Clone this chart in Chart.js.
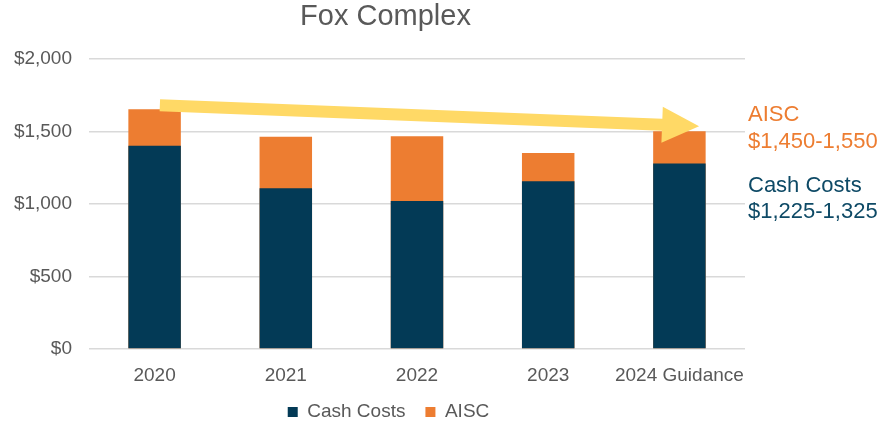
<!DOCTYPE html>
<html>
<head>
<meta charset="utf-8">
<script src="https://cdn.jsdelivr.net/npm/chart.js@4.4.0/dist/chart.umd.min.js"></script>
<style>
  body{margin:0;background:#fff;}
  #wrap{width:888px;height:425px;}
</style>
</head>
<body>
<div id="wrap"><canvas id="myChart"></canvas></div>
<script>
const years=['2020','2021','2022','2023','2024 Guidance'];
const cashCosts=[1400,1107,1020,1156,1278];
const aisc=[1653,1462,1466,1351,1501];
const yTicks=[0,500,1000,1500,2000];

// arrow from 2020 to 2024 (category index, value)
const arrowFrom=[0.04,1680];
const arrowTo=[4.15,1535];

const guidanceText=[
  {text:'AISC',color:'#ED7D31'},
  {text:'$1,450-1,550',color:'#ED7D31'},
  {text:'Cash Costs',color:'#0E4A66'},
  {text:'$1,225-1,325',color:'#0E4A66'}
];

const FONT="'Liberation Sans', Arial, sans-serif";
const GREY='#595959';

const arrowPlugin={
  id:'arrow',
  afterLayout(chart){
    // nudge title and legend a bit to the right, like the original
    if(chart.titleBlock){chart.titleBlock.left+=7;chart.titleBlock.right+=7;}
    if(chart.legend){chart.legend.left+=10;chart.legend.right+=10;}
  },
  afterDatasetsDraw(chart){
    const ctx=chart.ctx;
    const x=chart.scales.x, y=chart.scales.y;
    const x0=x.getPixelForValue(arrowFrom[0]), y0=y.getPixelForValue(arrowFrom[1]);
    const x1=x.getPixelForValue(arrowTo[0]), y1=y.getPixelForValue(arrowTo[1]);
    const ang=Math.atan2(y1-y0,x1-x0);
    const len=Math.hypot(x1-x0,y1-y0);
    const shaft=6, headW=18, headL=37;
    ctx.save();
    ctx.translate(x0,y0);
    ctx.rotate(ang);
    ctx.fillStyle='#FFD966';
    ctx.beginPath();
    ctx.moveTo(0,-shaft);
    ctx.lineTo(len-headL,-shaft);
    ctx.lineTo(len-headL,-headW);
    ctx.lineTo(len,0);
    ctx.lineTo(len-headL,headW);
    ctx.lineTo(len-headL,shaft);
    ctx.lineTo(0,shaft);
    ctx.closePath();
    ctx.fill();
    ctx.restore();
  },
  afterDraw(chart){
    const ctx=chart.ctx;
    const left=chart.chartArea.right+3;
    const base=[121,148,192,218];
    ctx.save();
    ctx.font='22px '+FONT;
    ctx.textAlign='left';
    ctx.textBaseline='alphabetic';
    for(let i=0;i<guidanceText.length;i++){
      ctx.fillStyle=guidanceText[i].color;
      ctx.fillText(guidanceText[i].text,left,base[i]);
    }
    ctx.restore();
  }
};

const chart=new Chart(document.getElementById('myChart'),{
  type:'bar',
  data:{
    labels:years,
    datasets:[
      {label:'Cash Costs',data:cashCosts,backgroundColor:'#033A56',barPercentage:0.4,categoryPercentage:1},
      {label:'AISC',data:aisc,backgroundColor:'#ED7D31',barPercentage:0.4,categoryPercentage:1}
    ]
  },
  options:{
    responsive:true,
    maintainAspectRatio:false,
    animation:false,
    layout:{padding:{left:12,right:143,top:0,bottom:0}},
    plugins:{
      title:{display:true,text:'Fox Complex',color:GREY,font:{family:FONT,size:29,weight:'normal'},padding:{top:0,bottom:24}},
      legend:{
        position:'bottom',
        maxHeight:42.5,
        labels:{color:GREY,font:{family:FONT,size:19},boxWidth:10,boxHeight:10,padding:20}
      },
      tooltip:{enabled:false}
    },
    scales:{
      x:{
        stacked:true,
        grid:{display:false,drawTicks:false},
        border:{display:false},
        ticks:{color:GREY,font:{family:FONT,size:19},padding:15,maxRotation:0,autoSkip:false},
        afterFit(s){s.height=33.5;}
      },
      y:{
        stacked:false,
        min:0,max:2000,
        afterBuildTicks(s){s.ticks=yTicks.map(v=>({value:v}));},
        grid:{color:'#D9D9D9',lineWidth:1.5,drawTicks:false},
        border:{display:false},
        ticks:{color:GREY,font:{family:FONT,size:19},padding:17,
          callback:v=>'$'+v.toLocaleString('en-US')},
        afterFit(s){s.width=77;}
      }
    }
  },
  plugins:[arrowPlugin]
});
</script>
</body>
</html>
